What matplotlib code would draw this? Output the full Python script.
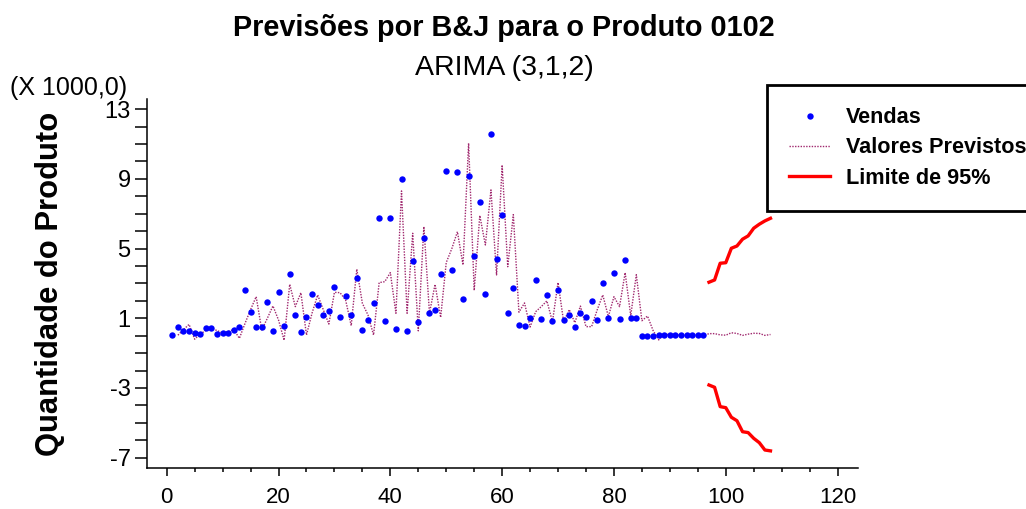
import matplotlib
matplotlib.use("Agg")
import matplotlib.pyplot as plt
from matplotlib.lines import Line2D
from matplotlib.ticker import MultipleLocator, FixedLocator
import numpy as np

plt.rcParams['font.family'] = ['Liberation Sans', 'DejaVu Sans']

# ---- data (in thousands) ----
vendas = [0.04, 0.48, 0.25, 0.25, 0.17, 0.12, 0.44, 0.44, 0.12, 0.17,
          0.17, 0.31, 0.50, 2.62, 1.34, 0.50, 0.50, 1.92, 0.25, 2.49,
          0.58, 3.53, 1.21, 0.20, 1.08, 2.38, 1.78, 1.21, 1.40, 2.82,
          1.08, 2.30, 1.21, 3.33, 0.31, 0.89, 1.86, 6.78, 0.83, 6.78,
          0.39, 9.02, 0.25, 4.29, 0.77, 5.63, 1.29, 1.48, 3.53, 9.48,
          3.77, 9.42, 2.11, 9.15, 4.56, 7.68, 2.38, 11.60, 4.42, 6.91,
          1.29, 2.74, 0.64, 0.58, 1.02, 3.20, 0.96, 2.36, 0.83, 2.61,
          0.89, 1.21, 0.50, 1.29, 1.08, 1.98, 0.89, 3.01, 1.02, 3.59,
          0.96, 4.35, 1.02, 1.02, 0.00, 0.00, 0.00, 0.06, 0.06, 0.06,
          0.06, 0.06, 0.06, 0.06, 0.06, 0.06]
periodos = list(range(1, len(vendas) + 1))

previstos = [0.03, 0.35, 0.65, -0.20, 0.10, 0.30, 0.40, 0.30, 0.15,
             0.25, 0.35, -0.15, 0.70, 1.50, 2.24, 0.33, 1.00, 1.71, 0.90,
             -0.26, 2.95, 1.67, 2.47, 0.04, 1.30, 2.34, 1.50, 0.67, 2.49,
             2.47, 2.05, 0.58, 3.82, 1.86, 1.19, 0.04, 3.05, 3.10, 3.62,
             1.29, 8.31, 1.29, 5.88, 0.28, 6.26, 1.29, 2.95, 1.05, 4.20,
             5.00, 5.97, 4.06, 11.05, 2.60, 6.90, 5.21, 8.37, 3.49, 9.80,
             3.96, 6.95, 1.35, 1.88, 0.50, 1.38, 1.67, 2.00, 0.80, 3.05,
             0.80, 1.50, 0.75, 1.70, 0.52, 0.52, 1.48, 2.34, 1.10, 2.24,
             1.67, 3.62, 1.15, 3.50, 0.86, 1.13, 0.30, -0.24, 0.10, 0.05,
             0.08, 0.00, 0.08, 0.04, 0.06, 0.00,
             # forecasts 97..108
             0.12, 0.12, 0.05, 0.03, 0.17, 0.13, 0.02, 0.09, 0.14, 0.13,
             0.02, 0.07]
periodos_prev = list(range(2, 2 + len(previstos)))

limite_sup = [3.07, 3.20, 4.16, 4.19, 5.02, 5.15, 5.54, 5.73, 6.17, 6.40, 6.59, 6.74]
limite_inf = [-2.83, -2.96, -4.07, -4.13, -4.68, -4.88, -5.51, -5.56, -5.89, -6.14, -6.56, -6.61]
periodos_lim = list(range(97, 97 + len(limite_sup)))

y_ticks = [13, 9, 5, 1, -3, -7]
x_ticks = [0, 20, 40, 60, 80, 100, 120]

# ---- figure ----
W, H = 1026, 509
fig = plt.figure(figsize=(W / 100, H / 100), dpi=100)
L, R, T, B = 146.7, 857.7, 99.3, 468.3
ax = fig.add_axes([L / W, 1 - B / H, (R - L) / W, (B - T) / H])

pcolor = '#a0286e'
ax.plot(periodos_prev, previstos, color=pcolor, lw=1.0, linestyle=(0, (1, 1)), zorder=2)
ax.plot(periodos, vendas, 'o', color='blue', ms=4.6, mew=0, zorder=3)
ax.plot(periodos_lim, limite_sup, color='red', lw=2.4, zorder=2)
ax.plot(periodos_lim, limite_inf, color='red', lw=2.4, zorder=2)

ax.set_xlim(-3.58, 123.6)
ax.set_ylim(-7.61, 13.57)

for s in ['top', 'right']:
    ax.spines[s].set_visible(False)
for s in ['left', 'bottom']:
    ax.spines[s].set_linewidth(1.1)

ax.xaxis.set_major_locator(FixedLocator(x_ticks))
ax.xaxis.set_minor_locator(MultipleLocator(5))
ax.yaxis.set_major_locator(FixedLocator(y_ticks))
ax.yaxis.set_minor_locator(MultipleLocator(1))
ax.set_xticklabels([str(v) for v in x_ticks])
ax.set_yticklabels([str(v) for v in y_ticks])

ax.tick_params(axis='x', which='major', direction='out', length=5.5, width=1.1,
               labelsize=16, pad=8)
ax.tick_params(axis='x', which='minor', direction='out', length=3, width=1.1)
ax.tick_params(axis='y', which='both', direction='out', length=8.5, width=1.1,
               labelsize=17, pad=3)

# texts
fig.text(503.5 / W, 1 - 28 / H, 'Previsões por B&J para o Produto 0102',
         ha='center', va='center', fontsize=20.8, weight='bold')
fig.text(504 / W, 1 - 68 / H, 'ARIMA (3,1,2)', ha='center', va='center', fontsize=20.5)
fig.text(10 / W, 1 - 88 / H, '(X 1000,0)', ha='left', va='center', fontsize=18)
fig.text(50 / W, 1 - 284 / H, 'Quantidade do Produto', ha='center', va='center',
         rotation=90, fontsize=22.3, weight='bold')

handles = [
    Line2D([], [], marker='o', color='blue', ls='none', ms=4.6, mew=0),
    Line2D([], [], color=pcolor, lw=1.0, linestyle=(0, (1, 1))),
    Line2D([], [], color='red', lw=2.4),
]
labels = ['Vendas', 'Valores Previstos', 'Limite de 95%']
leg = fig.legend(handles, labels, loc='upper left', bbox_to_anchor=(767 / W, 1 - 85 / H),
                 frameon=True, fancybox=False, edgecolor='black', framealpha=1,
                 prop={'weight': 'bold', 'size': 15.6}, handlelength=1.9,
                 handletextpad=0.7, borderpad=1.03, labelspacing=0.42, borderaxespad=0)
leg.get_frame().set_linewidth(2)

fig.savefig('out.png', dpi=100)
